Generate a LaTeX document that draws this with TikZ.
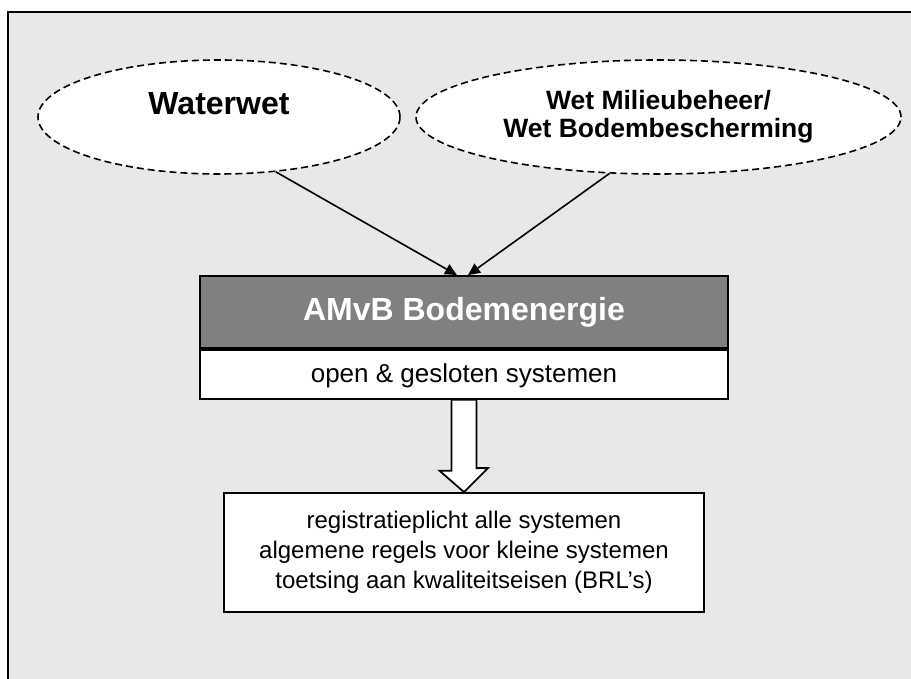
\documentclass[tikz,border=0pt]{standalone}
\usepackage{fontspec}
\setmainfont{Liberation Sans}
\usetikzlibrary{arrows.meta, positioning, shapes.geometric}
\definecolor{panel}{RGB}{232, 232, 232}
\definecolor{header}{RGB}{128, 128, 128}

\begin{document}
\begin{tikzpicture}[x=0.5pt, y=-0.5pt,
        law/.style={ellipse, draw, dash pattern=on 3.5pt off 2pt, line width=0.8pt, fill=white, inner sep=0pt, align=center},
        headbox/.style={rectangle, draw, line width=0.9pt, fill=header, text=white, minimum width=264pt, minimum height=36pt, inner sep=0pt, font=\bfseries\fontsize{16}{18}\selectfont},
        subbox/.style={rectangle, draw, line width=0.9pt, fill=white, minimum width=264pt, minimum height=24.5pt, inner sep=0pt},
        notebox/.style={rectangle, draw, line width=0.9pt, fill=white, minimum width=240pt, minimum height=59.5pt, inner sep=0pt, align=center, font=\fontsize{12}{15}\selectfont},
        feed/.style={line width=0.8pt, -{Triangle[length=6pt, width=5.5pt]}},
        bigarrow/.style={draw, line width=0.9pt, fill=white, line join=miter}]
        \useasboundingbox (0,0) rectangle (911,679);
        \clip (0,0) rectangle (911,679);
        \draw[fill=panel, line width=1pt] (8,12) rectangle (940,700);

        % wetten
        \node[law, minimum width=181pt, minimum height=57pt, font=\bfseries\fontsize{16}{14}\selectfont] (waterwet) at (219,117) {Waterwet\\\phantom{W}};
        \node[law, minimum width=242.5pt, minimum height=57pt, font=\bfseries\fontsize{13.25}{14}\selectfont] (wmb) at (658.5,117) {Wet Milieubeheer/\\Wet Bodembescherming};

        % AMvB
        \node[headbox] (amvb) at (464,312) {AMvB Bodemenergie};
        \node[subbox, below=0pt of amvb] (types) {};
        \begin{scope}
            \clip (types.north west) rectangle ([yshift=5.5pt]types.south east);
            \node[anchor=base, inner sep=0pt, font=\fontsize{13}{15}\selectfont] (typestext) at (464,383) {open \& gesloten systemen};
        \end{scope}
        \node[notebox] (note) at (464,552.5) {registratieplicht alle systemen\\algemene regels voor kleine systemen\\toetsing aan kwaliteitseisen (BRL’s)};

        \draw[feed] (waterwet.-44) -- ([xshift=-3.5pt]amvb.north);
        \draw[feed] (wmb.-131) -- ([xshift=2pt]amvb.north);

        \path[bigarrow] ([xshift=-6.25pt]types.south) -- ++(0,71) -- ++(-12,0) -- (note.north) -- ++(24,-24) -- ++(-11.5,0) -- ([xshift=6.25pt]types.south) -- cycle;
\end{tikzpicture}
\end{document}
